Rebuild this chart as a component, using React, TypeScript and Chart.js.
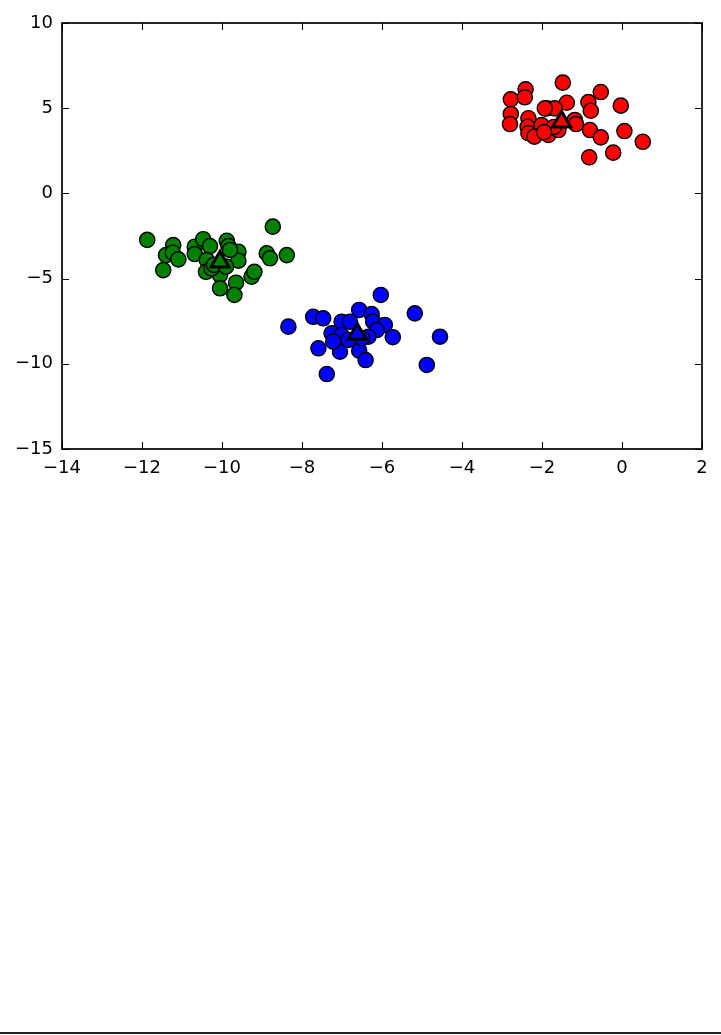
import React, { useEffect, useRef } from "react";
import { Chart, registerables } from "chart.js";

Chart.register(...registerables);

const redX = [-2.78, -2.41, -2.43, -2.78, -2.8, -1.48, -0.53, -0.84, -0.78, -0.03, -1.38, -1.88, -1.68, -2.34, -2.36, -2.34, -2.19, -2.01, -1.84, -1.59, -1.18, -1.15, -0.8, -0.53, 0.06, 0.52, -0.22, -0.82, -1.93, -1.7, -1.95];
const redY = [5.52, 6.11, 5.64, 4.66, 4.07, 6.5, 5.95, 5.36, 4.85, 5.15, 5.32, 4.99, 4.99, 4.41, 3.91, 3.53, 3.33, 4.01, 3.43, 3.72, 4.31, 4.07, 3.72, 3.29, 3.66, 3.03, 2.39, 2.12, 4.99, 3.9, 3.6];

const greenX = [-11.87, -11.22, -11.4, -11.23, -11.09, -11.47, -10.68, -10.47, -10.68, -10.3, -10.38, -10.4, -9.88, -9.84, -9.59, -9.59, -10.05, -10.05, -9.65, -9.69, -9.26, -9.19, -8.88, -8.8, -8.73, -8.38, -10.26, -9.8, -10.2, -9.9];
const greenY = [-2.73, -3.03, -3.62, -3.48, -3.87, -4.5, -3.13, -2.69, -3.56, -3.09, -3.91, -4.6, -2.78, -3.09, -3.42, -3.95, -4.79, -5.57, -5.24, -5.96, -4.89, -4.6, -3.52, -3.81, -1.95, -3.62, -4.4, -3.32, -4.2, -4.3];

const blueX = [-6.03, -5.18, -4.55, -4.88, -8.34, -7.72, -7.47, -7.01, -6.57, -6.26, -6.22, -5.93, -5.73, -7.26, -7.01, -7.59, -7.05, -6.57, -6.41, -7.38, -6.8, -6.13, -6.34, -7.22, -6.84, -6.5];
const blueY = [-5.96, -7.04, -8.41, -10.07, -7.82, -7.24, -7.33, -7.53, -6.84, -7.08, -7.53, -7.72, -8.44, -8.21, -8.31, -9.09, -9.29, -9.23, -9.78, -10.6, -7.53, -8.02, -8.41, -8.7, -8.6, -8.5];

const centerX = [-1.51, -10.05, -6.62];
const centerY = [4.21, -4.01, -8.25];
const centerColors = ["#ff0000", "#008000", "#0000ff"];

const xTicks = [-14, -12, -10, -8, -6, -4, -2, 0, 2];
const yTicks = [-15, -10, -5, 0, 5, 10];

const toPts = (xs: number[], ys: number[]) => xs.map((x, i) => ({ x, y: ys[i] }));
const fmt = (v: number) => (v < 0 ? "\u2212" + Math.abs(v) : String(v));

const framePlugin = {
  id: "frame",
  afterDraw(chart: any) {
    const { ctx, chartArea, scales } = chart;
    const { left, right, top, bottom } = chartArea;
    ctx.save();
    ctx.strokeStyle = "#000";
    ctx.lineWidth = 1;
    const tl = 7;
    xTicks.forEach((v) => {
      const px = Math.round(scales.x.getPixelForValue(v)) + 0.5;
      ctx.beginPath();
      ctx.moveTo(px, bottom);
      ctx.lineTo(px, bottom - tl);
      ctx.moveTo(px, top);
      ctx.lineTo(px, top + tl);
      ctx.stroke();
    });
    yTicks.forEach((v) => {
      const py = Math.round(scales.y.getPixelForValue(v)) + 0.5;
      ctx.beginPath();
      ctx.moveTo(left, py);
      ctx.lineTo(left + tl, py);
      ctx.moveTo(right, py);
      ctx.lineTo(right - tl, py);
      ctx.stroke();
    });
    ctx.lineWidth = 1.7;
    ctx.strokeRect(left, top, right - left, bottom - top);
    ctx.restore();
  },
};

export default function App() {
  const ref = useRef<HTMLCanvasElement | null>(null);
  useEffect(() => {
    if (!ref.current) return;
    const circle = (color: string, xs: number[], ys: number[]) => ({
      data: toPts(xs, ys),
      backgroundColor: color,
      borderColor: "#000",
      borderWidth: 1.4,
      pointRadius: 7.6,
      pointHoverRadius: 7.6,
      pointStyle: "circle",
      order: 2,
    });
    const chart = new Chart(ref.current, {
      type: "scatter",
      data: {
        datasets: [
          circle("#ff0000", redX, redY),
          circle("#008000", greenX, greenY),
          circle("#0000ff", blueX, blueY),
          {
            data: toPts(centerX, centerY),
            backgroundColor: centerColors,
            borderColor: "#000",
            borderWidth: 3,
            pointRadius: 10.5,
            pointHoverRadius: 10.5,
            pointStyle: "triangle",
            order: 0,
          },
        ],
      },
      options: {
        animation: false,
        responsive: false,
        events: [],
        layout: { padding: { left: 0, top: 23, right: 19, bottom: 0 } },
        plugins: { legend: { display: false }, tooltip: { enabled: false } },
        scales: {
          x: {
            type: "linear",
            min: -14,
            max: 2,
            afterFit: (s: any) => {
              s.height = 480 - 449;
            },
            afterBuildTicks: (s: any) => {
              s.ticks = xTicks.map((v) => ({ value: v }));
            },
            grid: { display: false, drawTicks: false },
            border: { display: false },
            ticks: {
              padding: 9,
              color: "#000",
              font: { family: "'DejaVu Sans'", size: 18 },
              callback: (v: any) => fmt(Number(v)),
              maxRotation: 0,
              autoSkip: false,
            },
          },
          y: {
            type: "linear",
            min: -15,
            max: 10,
            afterFit: (s: any) => {
              s.width = 62;
            },
            afterBuildTicks: (s: any) => {
              s.ticks = yTicks.map((v) => ({ value: v }));
            },
            grid: { display: false, drawTicks: false },
            border: { display: false },
            ticks: {
              padding: 9,
              color: "#000",
              font: { family: "'DejaVu Sans'", size: 18 },
              callback: (v: any) => fmt(Number(v)),
              autoSkip: false,
            },
          },
        },
      },
      plugins: [framePlugin],
    } as any);
    return () => chart.destroy();
  }, []);
  return (
    <div style={{ position: "absolute", left: 0, top: 0, width: 721, height: 1035, background: "#fff" }}>
      <canvas ref={ref} width={721} height={480} style={{ display: "block", width: 721, height: 480 }} />
      <div style={{ position: "absolute", left: 0, top: 1032, width: 721, height: 2, background: "#222" }} />
    </div>
  );
}
